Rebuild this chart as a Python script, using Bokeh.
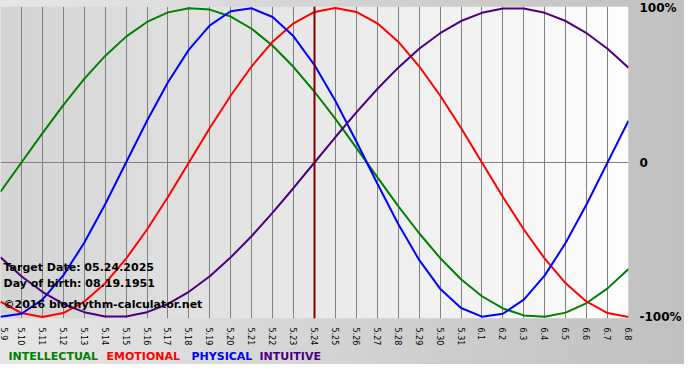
import numpy as np
from bokeh.plotting import figure
from bokeh.layouts import column
from bokeh.models import FixedTicker, Span, Label, Range1d
from bokeh.embed import file_html
from bokeh.resources import INLINE

# ---- data ----
dates = ["5.9", "5.10", "5.11", "5.12", "5.13", "5.14", "5.15", "5.16", "5.17", "5.18",
         "5.19", "5.20", "5.21", "5.22", "5.23", "5.24", "5.25", "5.26", "5.27", "5.28",
         "5.29", "5.30", "5.31", "6.1", "6.2", "6.3", "6.4", "6.5", "6.6", "6.7", "6.8"]
physical = [-0.998, -0.979, -0.888, -0.731, -0.520, -0.270, 0.0, 0.270, 0.520, 0.731,
            0.888, 0.979, 0.998, 0.942, 0.817, 0.631, 0.398, 0.136, -0.136, -0.398,
            -0.631, -0.817, -0.942, -0.998, -0.979, -0.888, -0.731, -0.520, -0.270, 0.0, 0.270]
emotional = [-0.901, -0.975, -1.0, -0.975, -0.901, -0.782, -0.623, -0.434, -0.223, 0.0,
             0.223, 0.434, 0.623, 0.782, 0.901, 0.975, 1.0, 0.975, 0.901, 0.782,
             0.623, 0.434, 0.223, 0.0, -0.223, -0.434, -0.623, -0.782, -0.901, -0.975, -1.0]
intellectual = [-0.189, 0.0, 0.189, 0.372, 0.541, 0.690, 0.815, 0.910, 0.972, 0.999,
                0.990, 0.945, 0.866, 0.756, 0.618, 0.458, 0.282, 0.095, -0.095, -0.282,
                -0.458, -0.618, -0.756, -0.866, -0.945, -0.990, -0.999, -0.972, -0.910, -0.815, -0.690]
intuitive = [-0.614, -0.736, -0.837, -0.916, -0.969, -0.997, -0.997, -0.969, -0.916, -0.837,
             -0.736, -0.614, -0.476, -0.325, -0.165, 0.0, 0.165, 0.325, 0.476, 0.614,
             0.736, 0.837, 0.916, 0.969, 0.997, 0.997, 0.969, 0.916, 0.837, 0.736, 0.614]
target_label = "5.24"
y_ticks = [-1, 0, 1]
y_tick_labels = ["-100%", "0", "100%"]
legend_names = ["INTELLECTUAL", "EMOTIONAL", "PHYSICAL", "INTUITIVE"]
info_lines = ["Target Date: 05.24.2025", "Day of birth: 08.19.1951", "\u00a92016 biorhythm-calculator.net"]

days = list(range(len(dates)))
FONT = "DejaVu Sans"
W = 684

p = figure(width=W, height=348, output_backend="svg", toolbar_location=None,
           x_range=Range1d(0, len(dates) - 1), y_range=Range1d(-1.01, 1.01),
           y_axis_location="right",
           min_border_left=0, min_border_top=6, min_border_right=48, min_border_bottom=26)
p.border_fill_alpha = 0
p.background_fill_alpha = 0
p.outline_line_color = None

# plot-area gradient background
n = 256
img = np.empty((1, n), dtype=np.uint32)
view = img.view(dtype=np.uint8).reshape((1, n, 4))
g = np.linspace(212, 254, n).astype(np.uint8)
view[0, :, 0] = g
view[0, :, 1] = g
view[0, :, 2] = g
view[0, :, 3] = 255
r = p.image_rgba(image=[img], x=0, y=-1.01, dw=len(dates) - 1, dh=2.02)
r.level = "image"

# grids
p.xgrid.ticker = FixedTicker(ticks=days)
p.xgrid.grid_line_color = "#808080"
p.xgrid.grid_line_width = 1
p.ygrid.ticker = FixedTicker(ticks=[0])
p.ygrid.grid_line_color = "#808080"

# x axis
p.xaxis.ticker = FixedTicker(ticks=days)
p.xaxis.major_label_overrides = {d: lab for d, lab in zip(days, dates)}
p.xaxis.major_label_orientation = -np.pi / 2
p.xaxis.major_label_text_font = FONT
p.xaxis.major_label_text_font_size = "8px"
p.xaxis.major_label_text_color = "#000000"
p.xaxis.axis_line_color = None
p.xaxis.major_tick_line_color = None
p.xaxis.minor_tick_line_color = None
p.xaxis.major_label_standoff = 3

# y axis (right)
p.yaxis.ticker = FixedTicker(ticks=y_ticks)
p.yaxis.major_label_overrides = {t: lab for t, lab in zip(y_ticks, y_tick_labels)}
p.yaxis.major_label_text_font = FONT
p.yaxis.major_label_text_font_style = "bold"
p.yaxis.major_label_text_font_size = "12px"
p.yaxis.major_label_text_color = "#000000"
p.yaxis.axis_line_color = None
p.yaxis.major_tick_line_color = None
p.yaxis.minor_tick_line_color = None
p.yaxis.major_label_standoff = 5

colors = {"INTELLECTUAL": "#008000", "EMOTIONAL": "#ff0000",
          "PHYSICAL": "#0000ff", "INTUITIVE": "#4b0082"}
series = {"INTELLECTUAL": intellectual, "EMOTIONAL": emotional,
          "PHYSICAL": physical, "INTUITIVE": intuitive}
for name in ["INTELLECTUAL", "EMOTIONAL", "PHYSICAL", "INTUITIVE"]:
    p.line(days, series[name], line_color=colors[name], line_width=2)

# target date line
p.add_layout(Span(location=dates.index(target_label), dimension="height",
                  line_color="#800000", line_width=2))

# info text
for txt, yy in zip(info_lines, [51, 35, 14]):
    p.add_layout(Label(x=3, y=yy, x_units="screen", y_units="screen", text=txt,
                       text_font=FONT, text_font_style="bold", text_font_size="11px",
                       text_baseline="middle", text_color="#000000"))

# legend strip along the bottom
lg = figure(width=W, height=16, output_backend="svg", toolbar_location=None,
            x_range=Range1d(0, 1), y_range=Range1d(0, 1),
            min_border=0, x_axis_type=None, y_axis_type=None)
lg.border_fill_alpha = 0
lg.background_fill_alpha = 0
lg.outline_line_color = None
lg.grid.visible = False
for name, xx in zip(legend_names, [8, 106, 191, 259]):
    lg.add_layout(Label(x=xx, y=8, x_units="screen", y_units="screen", text=name,
                        text_font=FONT, text_font_style="bold", text_font_size="11px",
                        text_baseline="middle", text_color=colors[name]))

layout = column(p, lg, spacing=0)
layout.styles = {"background": "linear-gradient(to right, #e6e6e6, #c0c0c0)"}

open("out.html", "w").write(file_html(layout, INLINE))
